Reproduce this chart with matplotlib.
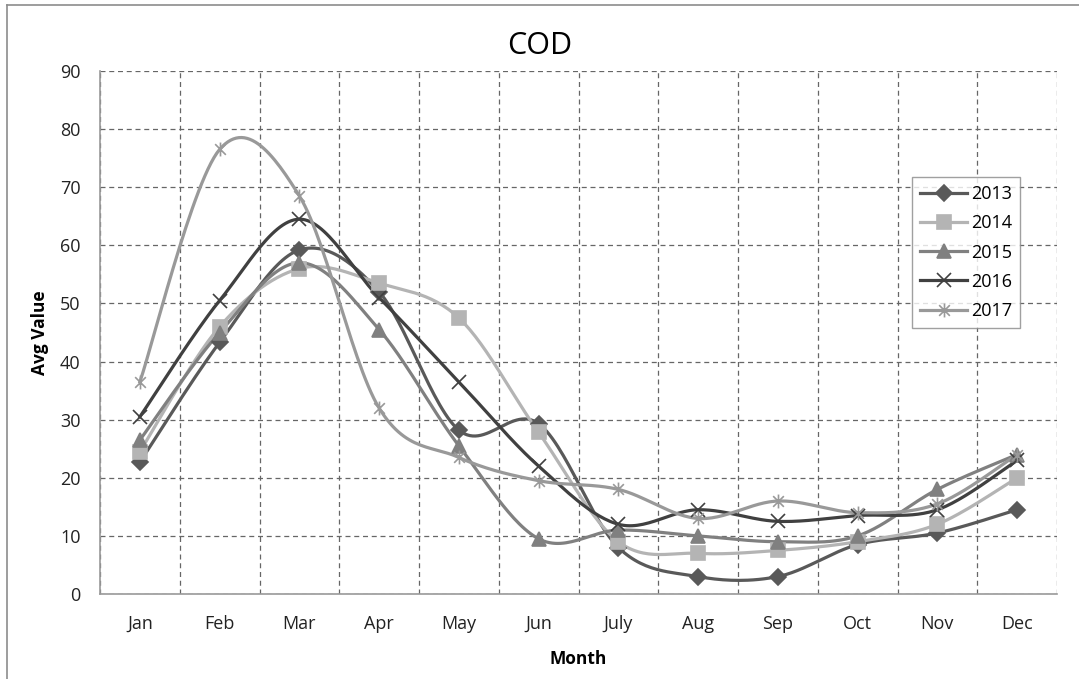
import numpy as np
import matplotlib
matplotlib.use("Agg")
import matplotlib.pyplot as plt
from matplotlib.path import Path
from matplotlib.lines import Line2D

months = ['Jan', 'Feb', 'Mar', 'Apr', 'May', 'Jun', 'July', 'Aug', 'Sep', 'Oct', 'Nov', 'Dec']
v2013 = [22.7, 43.3, 59.2, 52.0, 28.2, 29.3, 8.0, 3.0, 3.0, 8.5, 10.5, 14.5]
v2014 = [24.5, 46.0, 56.0, 53.5, 47.5, 27.8, 9.0, 7.0, 7.5, 9.0, 12.0, 20.0]
v2015 = [26.5, 45.0, 57.0, 45.5, 25.5, 9.5, 11.0, 10.0, 9.0, 10.0, 18.0, 24.0]
v2016 = [30.5, 50.5, 64.5, 51.0, 36.5, 22.0, 12.0, 14.5, 12.5, 13.5, 14.5, 23.0]
v2017 = [36.5, 76.5, 68.5, 32.0, 23.5, 19.5, 18.0, 13.0, 16.0, 14.0, 15.5, 24.0]

plt.rcParams['font.family'] = ['Open Sans', 'DejaVu Sans']

# excel-style asterisk marker: x plus vertical bar
star = Path([(-1, -1), (1, 1), (-1, 1), (1, -1), (0, -1.3), (0, 1.3)],
            [Path.MOVETO, Path.LINETO, Path.MOVETO, Path.LINETO, Path.MOVETO, Path.LINETO])


def smooth(y, n=30):
    # bezier smoothing like excel's "smoothed line"
    x = np.arange(len(y), dtype=float)
    p = np.column_stack([x, np.asarray(y, dtype=float)])
    pts = []
    for i in range(len(p) - 1):
        p0 = p[i - 1] if i > 0 else p[i]
        p3 = p[i + 2] if i + 2 < len(p) else p[i + 1]
        c1 = p[i] + (p[i + 1] - p0) / 6
        c2 = p[i + 1] - (p3 - p[i]) / 6
        t = np.linspace(0, 1, n)[:, None]
        seg = ((1 - t) ** 3 * p[i] + 3 * (1 - t) ** 2 * t * c1
               + 3 * (1 - t) * t ** 2 * c2 + t ** 3 * p[i + 1])
        pts.append(seg if i == 0 else seg[1:])
    pts = np.vstack(pts)
    return pts[:, 0], pts[:, 1]


series = [
    ('2013', v2013, '#595959', 'D', 8),
    ('2014', v2014, '#b4b4b4', 's', 10),
    ('2015', v2015, '#808080', '^', 10),
    ('2016', v2016, '#404040', 'x', 10),
    ('2017', v2017, '#999999', star, 10),
]

fig = plt.figure(figsize=(10.79, 6.79), dpi=100)
ax = fig.add_axes([100 / 1079, 1 - 594 / 679, 957 / 1079, (594 - 71) / 679])

handles = []
for name, vals, col, mk, ms in series:
    sx, sy = smooth(vals)
    ax.plot(sx, sy, color=col, lw=2.3, zorder=3)
    ax.plot(range(len(vals)), vals, ls='none', marker=mk, ms=ms, color=col,
            mec=col, mew=1.2, zorder=4)
    handles.append(Line2D([], [], color=col, lw=2.3, marker=mk, ms=ms, mec=col, mew=1.2))

ax.set_xlim(-0.5, len(months) - 0.5)
ax.set_ylim(0, 90)
ax.set_yticks(range(0, 91, 10))
ax.set_xticks(range(len(months)))
ax.set_xticklabels(months)
ax.set_xticks(np.arange(-0.5, len(months)), minor=True)
ax.tick_params(axis='both', which='both', length=0, labelsize=13, colors='#222222')
ax.tick_params(axis='y', pad=14)
ax.tick_params(axis='x', pad=15)
ax.grid(True, axis='y', which='major', ls=(0, (4, 3)), color='#666666', lw=0.9)
ax.grid(True, axis='x', which='minor', ls=(0, (4, 3)), color='#666666', lw=0.9)
ax.set_axisbelow(True)
for s in ['top', 'right']:
    ax.spines[s].set_visible(False)
for s in ['left', 'bottom']:
    ax.spines[s].set_color('#9a9a9a')
    ax.spines[s].set_linewidth(1.2)

ax.set_xlabel('Month', fontsize=12.5, fontweight='bold', labelpad=12)
ax.set_ylabel('Avg Value', fontsize=12.5, fontweight='bold', labelpad=8)
fig.text(0.5, 1 - 46 / 679, 'COD', fontsize=22, ha='center', va='center')

leg = ax.legend(handles, [s[0] for s in series], loc='upper left',
                bbox_to_anchor=((912 - 100) / 957, (594 - 177) / 523),
                fontsize=13, frameon=True, fancybox=False, edgecolor='#888888',
                handlelength=2.6, handletextpad=0.2, labelspacing=0.62,
                borderpad=0.45, borderaxespad=0)
leg.get_frame().set_linewidth(1.0)

# outer chart border (left and top edges visible)
fig.add_artist(Line2D([7 / 1079, 7 / 1079], [0, 1 - 5 / 679], color='#8c8c8c', lw=1.2))
fig.add_artist(Line2D([7 / 1079, 1], [1 - 5 / 679, 1 - 5 / 679], color='#8c8c8c', lw=1.2))

fig.savefig('out.png', dpi=100, facecolor='white')
